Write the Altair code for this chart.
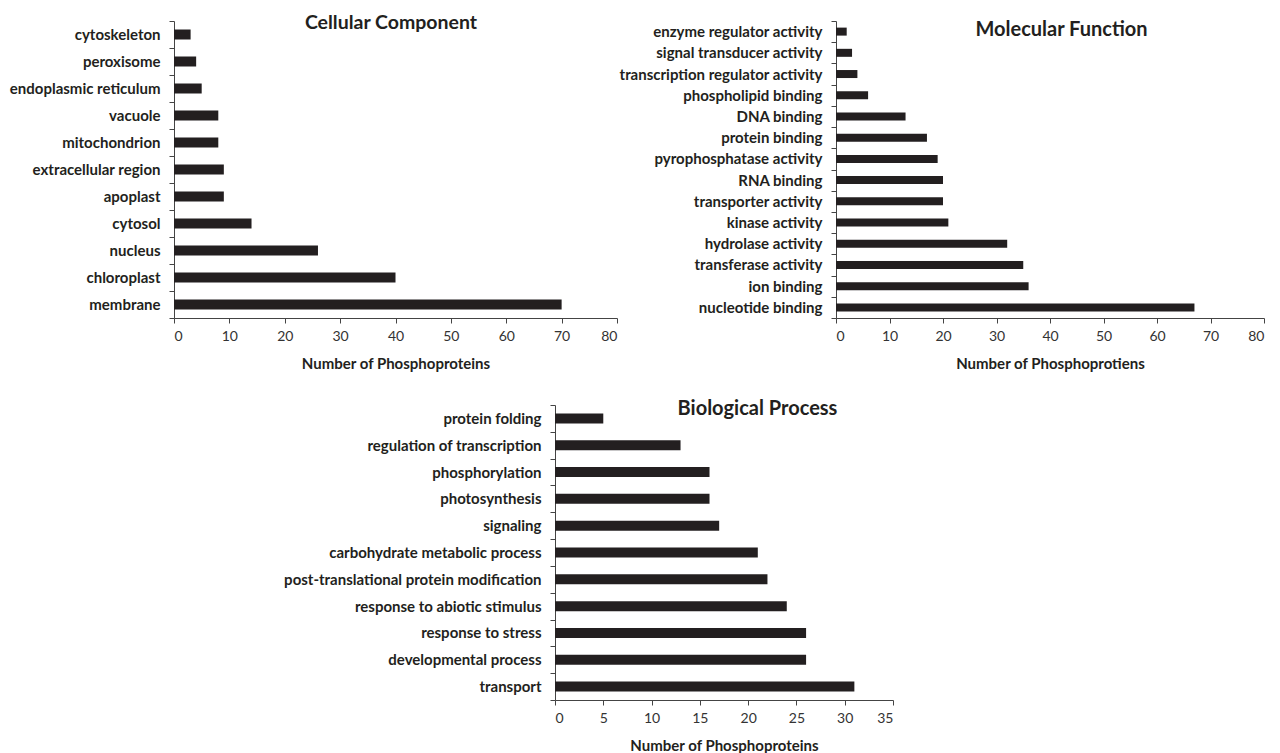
import altair as alt
import pandas as pd

FONT = "Lato, sans-serif"
BAR = "#231f20"

cc_cats = ["cytoskeleton", "peroxisome", "endoplasmic reticulum", "vacuole", "mitochondrion",
           "extracellular region", "apoplast", "cytosol", "nucleus", "chloroplast", "membrane"]
cc_vals = [3, 4, 5, 8, 8, 9, 9, 14, 26, 40, 70]

mf_cats = ["enzyme regulator activity", "signal transducer activity", "transcription regulator activity",
           "phospholipid binding", "DNA binding", "protein binding", "pyrophosphatase activity",
           "RNA binding", "transporter activity", "kinase activity", "hydrolase activity",
           "transferase activity", "ion binding", "nucleotide binding"]
mf_vals = [2, 3, 4, 6, 13, 17, 19, 20, 20, 21, 32, 35, 36, 67]

bp_cats = ["protein folding", "regulation of transcription", "phosphorylation", "photosynthesis",
           "signaling", "carbohydrate metabolic process", "post-translational protein modification",
           "response to abiotic stimulus", "response to stress", "developmental process", "transport"]
bp_vals = [5, 13, 16, 16, 17, 21, 22, 24, 26, 26, 31]


def panel(cats, vals, title, xtitle, xmax, xstep, width, height, bar_size, tx, ty, yext, tsize):
    df = pd.DataFrame({"cat": cats, "val": vals})
    bars = alt.Chart(df).mark_bar(size=bar_size, color=BAR).encode(
        x=alt.X("val:Q", scale=alt.Scale(domain=[0, xmax], nice=False),
                axis=alt.Axis(values=list(range(0, xmax + 1, xstep)), title=xtitle, grid=False,
                              labelFont=FONT, labelFontSize=14, labelColor="#333",
                              titleFont=FONT, titleFontSize=15, titleFontWeight="bold", titleColor="#231f20",
                              titlePadding=13, tickSize=5, tickColor="#444", domainColor="#444",
                              labelPadding=6)),
        y=alt.Y("cat:N", sort=cats, scale=alt.Scale(paddingInner=0, paddingOuter=0),
                axis=alt.Axis(title=None, tickBand="extent", labelFont=FONT, labelFontSize=15,
                              labelFontWeight="bold", labelColor="#231f20", tickSize=5, tickColor="#444",
                              domainColor="#444", labelPadding=9, labelLimit=400, minExtent=yext)),
    )
    ttl = alt.Chart(pd.DataFrame({"t": [title]})).mark_text(
        font=FONT, fontSize=tsize, fontWeight="bold", color="#231f20", align="center", baseline="alphabetic"
    ).encode(text="t:N", x=alt.value(tx), y=alt.value(ty))
    return alt.layer(bars, ttl).properties(width=width, height=height)


cc = panel(cc_cats, cc_vals, "Cellular Component", "Number of Phosphoproteins", 80, 10, 443, 297, 10, 217, 7.5, 166, 19.5)
mf = panel(mf_cats, mf_vals, "Molecular Function", "Number of Phosphoprotiens", 80, 10, 428, 297, 8, 225.5, 15, 150, 20)
bp = panel(bp_cats, bp_vals, "Biological Process", "Number of Phosphoproteins", 35, 5, 338, 295, 10, 202.5, 10, 281, 20)

spacer = alt.Chart(pd.DataFrame({"s": [0]})).mark_point(opacity=0).encode(
    x=alt.value(0), y=alt.value(0)
).properties(width=100, height=10)

top = alt.hconcat(cc, mf, spacing=0)
bottom = alt.hconcat(spacer, bp, spacing=0)
chart = alt.vconcat(top, bottom, spacing=27).configure_view(
    stroke=None
).properties(padding={"top": 4, "left": 0, "right": 0, "bottom": 0})

chart.save("out.html", embed_options={"renderer": "svg", "actions": False})
